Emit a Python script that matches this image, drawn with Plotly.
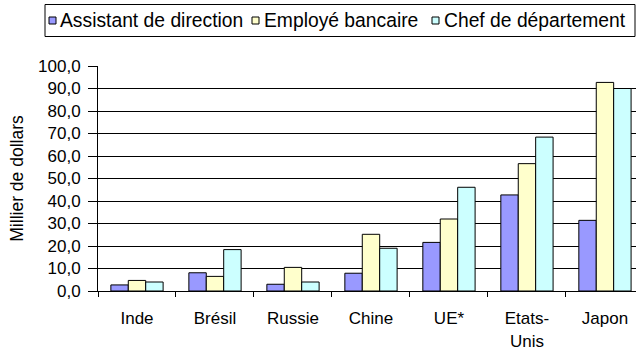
import plotly.graph_objects as go

# Annual salaries by country, in thousands of dollars
countries = ["Inde", "Brésil", "Russie", "Chine", "UE*", "Etats-<br>Unis", "Japon"]
assistant = [2.7, 8.1, 3.0, 7.9, 21.6, 42.7, 31.4]
employe = [4.7, 6.5, 10.5, 25.2, 32.0, 56.6, 92.7]
chef = [4.0, 18.4, 4.0, 19.0, 46.1, 68.4, 90.0]

series_names = ["Assistant de direction", "Employé bancaire", "Chef de département"]
series_values = [assistant, employe, chef]
series_colors = ["#9999FF", "#FFFFCC", "#CCFFFF"]

FONT = "Liberation Sans, Arial, sans-serif"
W, H = 636, 351
ML, MR, MT, MB = 98, 0, 66, 60
PW, PH = W - ML - MR, H - MT - MB


def px_x(x):
    return (x - ML) / PW


def px_y(y):
    return (H - MB - y) / PH


fig = go.Figure()
for name, vals, color in zip(series_names, series_values, series_colors):
    fig.add_trace(go.Bar(
        name=name, x=countries, y=vals,
        marker=dict(color=color, line=dict(color="black", width=1)),
    ))

# Compact boxed legend across the top
shapes = [dict(
    type="rect", xref="paper", yref="paper",
    x0=px_x(45), x1=px_x(635), y0=px_y(36.5), y1=px_y(4.5),
    line=dict(color="black", width=1), fillcolor="white", layer="above",
)]
annotations = []
sq_x = [49, 252, 432]
txt_x = [58, 262, 442]
for name, color, sx, tx in zip(series_names, series_colors, sq_x, txt_x):
    shapes.append(dict(
        type="rect", xref="paper", yref="paper",
        x0=px_x(sx), x1=px_x(sx + 7), y0=px_y(24), y1=px_y(17),
        line=dict(color="black", width=1), fillcolor=color, layer="above",
    ))
    annotations.append(dict(
        text=name, xref="paper", yref="paper",
        x=px_x(tx), y=px_y(20.5), xanchor="left", yanchor="middle",
        showarrow=False, font=dict(family=FONT, size=19.3, color="black"),
    ))

fig.update_layout(
    width=W, height=H,
    margin=dict(l=ML, r=MR, t=MT, b=MB),
    paper_bgcolor="white", plot_bgcolor="white",
    font=dict(family=FONT, size=17, color="black"),
    separators=", ",
    barmode="group", bargap=0.33, bargroupgap=0,
    showlegend=False,
    shapes=shapes, annotations=annotations,
)

fig.update_xaxes(
    range=[-0.5, 6.398], showline=True, linecolor="black", linewidth=1,
    ticks="outside", tickson="boundaries", ticklen=5, tickcolor="black",
    ticklabelstandoff=12,
    showgrid=False, tickfont=dict(size=17),
)
fig.update_yaxes(
    range=[0, 100], dtick=10, tickformat=".1f",
    showline=True, linecolor="black", linewidth=1,
    ticks="outside", ticklen=9, tickcolor="black",
    ticklabelstandoff=4,
    showgrid=True, gridcolor="black", gridwidth=1,
    zeroline=False,
    title=dict(text="Millier de dollars", font=dict(size=17.5), standoff=9),
    tickfont=dict(size=17),
)

fig.write_html("out.html")
